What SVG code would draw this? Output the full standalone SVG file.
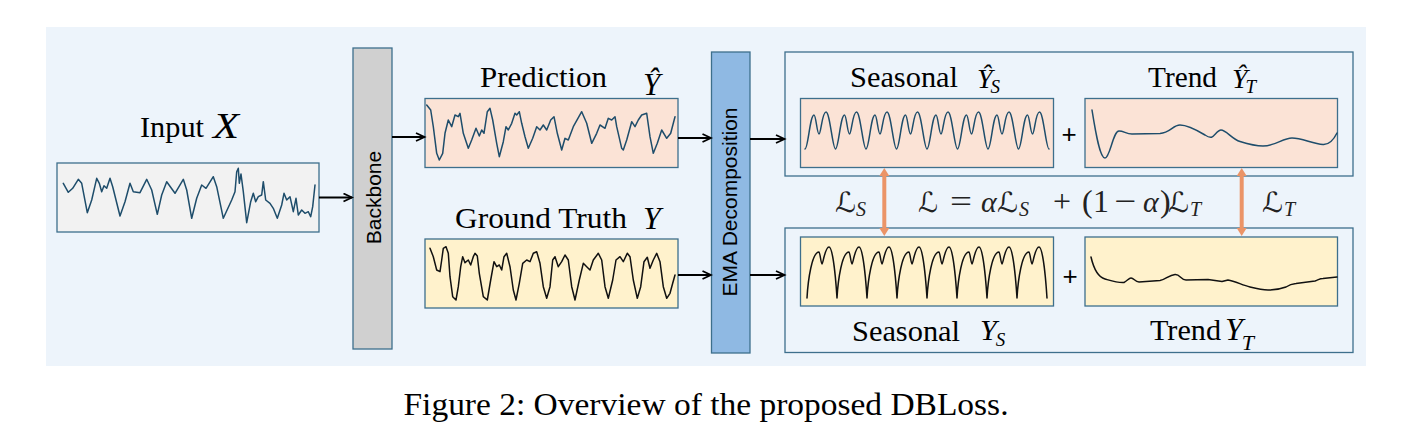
<svg xmlns="http://www.w3.org/2000/svg" width="1417" height="432" viewBox="0 0 1417 432">
<defs>
<marker id="ah" markerUnits="userSpaceOnUse" markerWidth="12" markerHeight="10" refX="10" refY="5" orient="auto">
<path d="M1.5,1 L10,5 L1.5,9" fill="none" stroke="#000" stroke-width="1.8" stroke-linejoin="miter"/>
</marker>
<marker id="oh" markerUnits="userSpaceOnUse" markerWidth="12" markerHeight="12" refX="2" refY="5" orient="auto-start-reverse">
<path d="M0,0 L8,5 L0,10 z" fill="#eb9467"/>
</marker>
<style>
.panel{fill:#edf4fb}
.box{stroke:#3d6f8c;stroke-width:1.3}
.grp{fill:none;stroke:#3d6f8c;stroke-width:1.3}
.pink{fill:#fbe3d6}
.yel{fill:#fff2cc}
.wt{fill:none;stroke:#1e4d6b;stroke-width:1.5;stroke-linejoin:round;stroke-linecap:round}
.wk{fill:none;stroke:#111;stroke-width:1.5;stroke-linejoin:round;stroke-linecap:round}
.lbl{font-family:"Liberation Serif",serif;font-size:30px;fill:#000}
.mi{font-family:"Liberation Serif",serif;font-style:italic;fill:#000}
.rot{font-family:"Liberation Sans",Arial,sans-serif;font-size:21px;fill:#000;text-anchor:middle}
.plus{font-family:"Liberation Sans",Arial,sans-serif;font-size:26px;fill:#000;text-anchor:middle}
.arr{stroke:#000;stroke-width:1.8;fill:none}
.oarr{stroke:#eb9467;stroke-width:4;fill:none}
.math{font-family:"Liberation Serif",serif;font-size:32px;fill:#222}
.mit{font-family:"Liberation Serif",serif;font-style:italic;fill:#222}
.cal{font-family:"DejaVu Serif","DejaVu Sans",serif;font-style:italic;font-size:28px;fill:#222}
</style>
</defs>
<rect class="panel" x="46" y="27" width="1320" height="339"/>

<g id="input">
<rect class="box" x="57" y="163" width="262" height="69" fill="#f2f2f2"/>
<polyline class="wt" points="63.3,183.3 68.3,192.3 72.7,188.3 78.3,179.3 81.7,183.3 87.3,212.7 91.7,200 96.7,178.3 99.3,183.3 101.7,191.7 104,185.7 106.7,188.3 110,178.3 112.7,186.7 120,216 125,201.7 130,183.3 133.3,191.7 140,192.7 146.7,179.3 151.7,190 157.3,214.3 161.7,195 166.7,181.7 175,193.3 183.3,179.3 186.7,190 191.7,218.3 196.7,198.3 201.7,185 206,188.3 213.3,176.7 216.7,186.7 223.3,218.3 231.7,200 235,191.7 236.7,171.7 238.3,168.3 239.3,183.3 241,174 243.3,191.7 246.7,222.7 250.7,201.7 253.3,193.3 255.7,201.7 258.3,196.7 261.7,195 263.3,181.7 265.7,200 270,203.3 273.3,208.3 277.3,218.3 281.7,205 284,193.3 286.7,200 290,196.7 293.3,211.7 296,198.3 298.3,215 301.7,210 305,213.3 308.3,211.7 310.7,216.7 312.7,206.7 315,185"/>
<text class="lbl" x="140" y="137" font-size="31" textLength="64" lengthAdjust="spacingAndGlyphs">Input</text>
<text class="mi" x="213" y="138" font-size="36" textLength="26" lengthAdjust="spacingAndGlyphs">X</text>
</g>

<g id="backbone">
<rect class="box" x="353" y="48" width="39" height="301" fill="#d0d0d0"/>
<text class="rot" x="380.5" y="197.5" transform="rotate(-90 380.5 197.5)">Backbone</text>
</g>

<g id="prediction">
<rect class="box pink" x="425" y="98.5" width="253" height="69"/>
<polyline class="wt" points="426.7,105 430.7,110 433.3,126.7 436.7,153.3 439.3,160 442.7,153.3 445,133.3 448.3,120 451.7,126.7 455,115 458.3,116.7 460,113.3 463.3,133.3 468.3,148.3 471.7,140 476,128.3 479.3,136 481.7,130 484,133.3 487.3,111.7 490,108.3 492.7,120 496.7,143.3 499.3,156.7 503.3,141.7 506,126.7 508.3,130 511.7,123.3 515,113.3 516.7,115 519.3,111.7 521.7,123.3 525,136.7 528.3,148.3 532.7,138.3 536.7,126.7 540,130 543.3,125 546.7,130 550.7,120 554,116.7 557.3,133.3 561.7,150 565,138.3 568.3,140 573.3,126.7 581.7,111.7 586.7,123.3 591.7,143.3 596.7,133.3 600,125 605,128.3 608.3,118.3 611.7,120 615,116.7 616.7,126.7 621.7,148.3 623.3,150 626.7,140 631.7,121.7 635,126.7 638.3,120 641.7,115 646.7,113.3 650,136.7 653.3,153.3 657.3,143.3 661.7,130 666.7,138.3 670.7,133.3 675,116.7"/>
<text class="lbl" x="480" y="87" textLength="127" lengthAdjust="spacingAndGlyphs">Prediction</text>
<text class="mi" x="643" y="95" font-size="31">Ŷ</text>
</g>

<g id="groundtruth">
<rect class="box yel" x="425" y="239" width="253" height="69"/>
<polyline class="wk" points="430,248.3 433.3,256.7 436.7,270 440,271.7 441.7,260 443.3,248.3 446,246.7 448.3,253.3 450,276.7 452.7,296.7 456,300 458.3,286.7 460.7,266.7 462.7,256.7 465,262.7 468.3,260 470.7,265 473.3,256.7 475,253.3 477.3,256 479.3,273.3 483.3,296.7 487.3,300 490.7,280 494,261.7 496.7,266.7 499.3,265 501.7,270 504,256.7 506.7,253.3 510,266.7 513.3,290 516,300 519.3,283.3 522.7,263.3 526.7,260 530,261.7 533.3,253.3 536.7,251.7 540,263.3 543.3,286.7 546.7,298.3 550,286.7 552.7,260 555,256.7 558.3,266.7 561.7,261.7 565,255 568.3,260 571.7,286.7 575,300 579.3,280 583.3,263.3 586.7,266.7 590,270 593.3,260 598.3,253.3 601.7,260 605,286.7 608.3,298.3 612.7,280 616,260 620,256.7 623.3,261.7 627.3,253.3 630,256.7 633.3,280 637.3,298.3 640.7,286.7 644,261.7 647.3,257.3 650,268.3 653.3,260 656.7,253.3 660,261.7 663.3,286.7 666.7,298.3 670,293.3 672.7,283.3 675,275"/>
<text class="lbl" x="455" y="228" textLength="172" lengthAdjust="spacingAndGlyphs">Ground Truth</text>
<text class="mi" x="643" y="229" font-size="32">Y</text>
</g>

<g id="ema">
<rect class="box" x="711.5" y="52" width="38.5" height="301" fill="#8fb9e3"/>
<text class="rot" x="737" y="202" transform="rotate(-90 737 202)">EMA Decomposition</text>
</g>

<g id="pred-components">
<rect class="grp" x="785" y="52" width="568" height="124"/>
<rect class="box pink" x="800.5" y="98.5" width="253" height="69"/>
<path class="wt" d="M805,149 c3,0 5,-34 9,-34 c2,0 3,19 5,19 c2,0 3,-22 7,-22 c4,0 6.5,37 9.5,37 c3,0 5,-34 9,-34 c2,0 3,19 5,19 c2,0 3,-22 7,-22 c4,0 6.5,37 9.5,37 c3,0 5,-34 9,-34 c2,0 3,19 5,19 c2,0 3,-22 7,-22 c4,0 6.5,37 9.5,37 c3,0 5,-34 9,-34 c2,0 3,19 5,19 c2,0 3,-22 7,-22 c4,0 6.5,37 9.5,37 c3,0 5,-34 9,-34 c2,0 3,19 5,19 c2,0 3,-22 7,-22 c4,0 6.5,37 9.5,37 c3,0 5,-34 9,-34 c2,0 3,19 5,19 c2,0 3,-22 7,-22 c4,0 6.5,37 9.5,37 c3,0 5,-34 9,-34 c2,0 3,19 5,19 c2,0 3,-22 7,-22 c4,0 6.5,37 9.5,37 c3,0 5,-34 9,-34 c2,0 3,19 5,19 c2,0 3,-22 7,-22 c4,0 6.5,37 9.5,37"/>
<text class="plus" x="1069" y="143">+</text>
<rect class="box pink" x="1085" y="98.5" width="252.5" height="69"/>
<path class="wt" d="M1092,110 C1096,135 1100,158 1105,158 C1110,158 1113,131 1119,131 C1124,131 1126,134 1132,134 L1160,133.5 C1170,133 1173,125 1180,125 C1188,125 1200,132 1205,135 C1208,137 1210,138 1212,137 C1215,135 1218,130 1221,130 C1226,130 1232,139 1240,141.5 C1248,144 1256,146 1263,146 C1275,146 1283,138 1292,138 C1302,138 1313,144 1323,144.5 C1330,145 1334,139 1337,133"/>
<text class="lbl" x="850" y="87" textLength="108" lengthAdjust="spacingAndGlyphs">Seasonal</text>
<text class="mi" x="977" y="88" font-size="28">Ŷ<tspan font-size="19" dy="5" dx="-2">S</tspan></text>
<text class="lbl" x="1148" y="87" textLength="69" lengthAdjust="spacingAndGlyphs">Trend</text>
<text class="mi" x="1232" y="88" font-size="28">Ŷ<tspan font-size="19" dy="5" dx="-2">T</tspan></text>
</g>

<g id="true-components">
<rect class="grp" x="785" y="228" width="568" height="124.5"/>
<rect class="box yel" x="800.5" y="237" width="253" height="69"/>
<path class="wk" d="M807,298 c1,-18 5,-46 12,-46 c1,0 2,12 3,12 c1,0 3,-17 7,-17 c3,0 6,20 8,51 c1,-18 5,-46 12,-46 c1,0 2,12 3,12 c1,0 3,-17 7,-17 c3,0 6,20 8,51 c1,-18 5,-46 12,-46 c1,0 2,12 3,12 c1,0 3,-17 7,-17 c3,0 6,20 8,51 c1,-18 5,-46 12,-46 c1,0 2,12 3,12 c1,0 3,-17 7,-17 c3,0 6,20 8,51 c1,-18 5,-46 12,-46 c1,0 2,12 3,12 c1,0 3,-17 7,-17 c3,0 6,20 8,51 c1,-18 5,-46 12,-46 c1,0 2,12 3,12 c1,0 3,-17 7,-17 c3,0 6,20 8,51 c1,-18 5,-46 12,-46 c1,0 2,12 3,12 c1,0 3,-17 7,-17 c3,0 6,20 8,51 c1,-18 5,-46 12,-46 c1,0 2,12 3,12 c1,0 3,-17 7,-17 c3,0 6,20 8,51"/>
<text class="plus" x="1070" y="285">+</text>
<rect class="box yel" x="1085" y="237" width="252.5" height="69"/>
<path class="wk" d="M1091,257 C1094,270 1098,277 1105,279 C1112,281 1118,283 1124,282.5 C1127,281 1129,278 1131,278 C1134,278 1135,282 1139,282 L1160,280.5 C1165,280 1169,275 1175,274.5 C1180,274 1181,280 1186,280 L1208,279.5 L1222,281.5 L1228,280 C1235,281 1242,285 1250,287 C1258,289 1263,290 1268,290 C1275,290 1282,288.5 1286,287 C1289,285 1291,284 1296,283.5 L1315,281 C1318,280 1320,278.5 1323,278.5 L1337,277"/>
<text class="lbl" x="852" y="341" textLength="108" lengthAdjust="spacingAndGlyphs">Seasonal</text>
<text class="mi" x="980" y="340" font-size="30">Y<tspan font-size="19" dy="6" dx="-1">S</tspan></text>
<text class="lbl" x="1150" y="340" textLength="71" lengthAdjust="spacingAndGlyphs">Trend</text>
<text class="mi" x="1225" y="340" font-size="32">Y<tspan font-size="22" dy="10" dx="-1">T</tspan></text>
</g>

<g id="loss">
<text class="cal" x="835" y="212" textLength="21" lengthAdjust="spacingAndGlyphs">ℒ</text>
<text class="mit" x="856" y="216" font-size="20">S</text>
<text class="cal" x="918" y="212" textLength="20" lengthAdjust="spacingAndGlyphs">ℒ</text>
<text class="math" x="950" y="212" textLength="22" lengthAdjust="spacingAndGlyphs">=</text>
<text class="mit" x="981" y="212" font-size="30">α</text>
<text class="cal" x="997" y="212" textLength="21" lengthAdjust="spacingAndGlyphs">ℒ</text>
<text class="mit" x="1019" y="216" font-size="20">S</text>
<text class="math" x="1053" y="212" textLength="18" lengthAdjust="spacingAndGlyphs">+</text>
<text class="math" x="1082" y="212">(</text>
<text class="math" x="1093" y="212">1</text>
<text class="math" x="1114" y="212" textLength="22" lengthAdjust="spacingAndGlyphs">−</text>
<text class="mit" x="1143" y="212" font-size="30">α</text>
<text class="math" x="1160" y="212">)</text>
<text class="cal" x="1168" y="212" textLength="21" lengthAdjust="spacingAndGlyphs">ℒ</text>
<text class="mit" x="1190" y="216" font-size="20">T</text>
<text class="cal" x="1262" y="212" textLength="21" lengthAdjust="spacingAndGlyphs">ℒ</text>
<text class="mit" x="1284" y="216" font-size="20">T</text>
</g>

<g id="connectors">
<line class="arr" x1="319" y1="197.5" x2="352" y2="197.5" marker-end="url(#ah)"/>
<line class="arr" x1="392" y1="137" x2="424.5" y2="137" marker-end="url(#ah)"/>
<line class="arr" x1="678" y1="138" x2="711" y2="138" marker-end="url(#ah)"/>
<line class="arr" x1="678" y1="275" x2="711" y2="275" marker-end="url(#ah)"/>
<line class="arr" x1="750" y1="139" x2="784.5" y2="139" marker-end="url(#ah)"/>
<line class="arr" x1="750" y1="275" x2="784.5" y2="275" marker-end="url(#ah)"/>
<line class="oarr" x1="884.3" y1="174" x2="884.3" y2="230" marker-start="url(#oh)" marker-end="url(#oh)"/>
<line class="oarr" x1="1241.7" y1="174" x2="1241.7" y2="230" marker-start="url(#oh)" marker-end="url(#oh)"/>
</g>

<text x="706" y="415" text-anchor="middle" font-family="Liberation Serif, serif" font-size="32" textLength="605" lengthAdjust="spacingAndGlyphs">Figure 2: Overview of the proposed DBLoss.</text>
</svg>
